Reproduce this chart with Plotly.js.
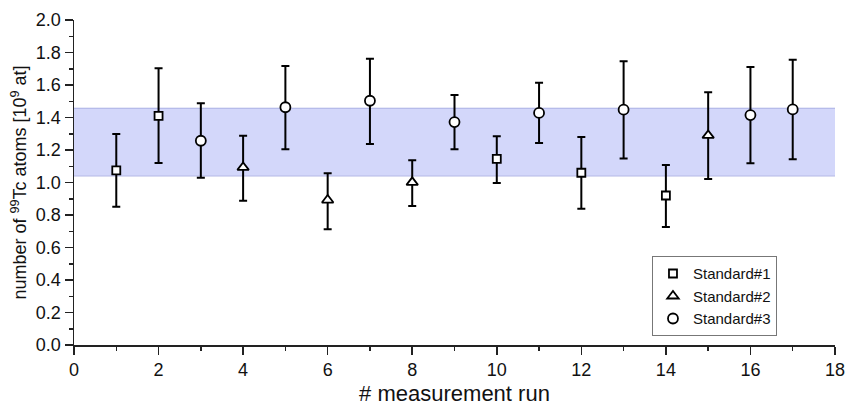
<!DOCTYPE html>
<html>
<head>
<meta charset="utf-8">
<script src="https://cdn.plot.ly/plotly-3.0.1.min.js"></script>
<style>html,body{margin:0;padding:0;background:#fff;}#chart{width:846px;height:409px;}</style>
</head>
<body>
<div id="chart"></div>
<script>
// Standard#1 (squares)
const s1Run   = [1, 2, 10, 12, 14];
const s1Value = [1.075, 1.41, 1.145, 1.06, 0.92];
const s1Low   = [0.851, 1.12, 0.997, 0.839, 0.726];
const s1High  = [1.298, 1.703, 1.284, 1.28, 1.108];
// Standard#2 (triangles)
const s2Run   = [4, 6, 8, 15];
const s2Value = [1.093, 0.892, 1.001, 1.29];
const s2Low   = [0.888, 0.712, 0.855, 1.022];
const s2High  = [1.288, 1.057, 1.137, 1.555];
// Standard#3 (circles)
const s3Run   = [3, 5, 7, 9, 11, 13, 16, 17];
const s3Value = [1.257, 1.463, 1.503, 1.372, 1.428, 1.448, 1.415, 1.45];
const s3Low   = [1.03, 1.204, 1.237, 1.204, 1.243, 1.147, 1.118, 1.143];
const s3High  = [1.487, 1.717, 1.762, 1.538, 1.614, 1.746, 1.711, 1.756];
// shaded band
const bandX    = [0, 18];
const bandLow  = [1.04, 1.04];
const bandHigh = [1.457, 1.457];
const seriesNames = ['Standard#1', 'Standard#2', 'Standard#3'];

const FONT = 'Arial, "Liberation Sans", sans-serif';

function errTrace(name, x, y, lo, hi, symbol, size) {
  return {
    type: 'scatter', mode: 'markers', name: name, x: x, y: y,
    marker: {symbol: symbol, size: size, color: '#ffffff', line: {color: '#000000', width: 1.8}},
    error_y: {type: 'data', symmetric: false,
      array: hi.map((h, i) => h - y[i]),
      arrayminus: lo.map((l, i) => y[i] - l),
      color: '#000000', thickness: 2, width: 4}
  };
}

const traces = [
  {type: 'scatter', mode: 'lines', x: bandX, y: bandLow, line: {color: '#b4b8e6', width: 1}, showlegend: false, hoverinfo: 'skip'},
  {type: 'scatter', mode: 'lines', x: bandX, y: bandHigh, fill: 'tonexty', fillcolor: '#d3d7fa', line: {color: '#a9aee4', width: 1}, showlegend: false, hoverinfo: 'skip'},
  errTrace(seriesNames[0], s1Run, s1Value, s1Low, s1High, 'square', 8),
  errTrace(seriesNames[1], s2Run, s2Value, s2Low, s2High, 'triangle-up', 10),
  errTrace(seriesNames[2], s3Run, s3Value, s3Low, s3High, 'circle', 10)
];

const axBase = {
  showgrid: false, zeroline: false, showline: true, linecolor: '#222222', linewidth: 1.5,
  tickcolor: '#222222', tickwidth: 1.5, ticklen: 8,
  tickfont: {family: FONT, size: 18, color: '#111111'}
};

const layout = {
  width: 846, height: 409,
  margin: {l: 74, r: 11, t: 20, b: 64},
  paper_bgcolor: '#ffffff', plot_bgcolor: '#ffffff',
  font: {family: FONT, color: '#111111'},
  xaxis: Object.assign({}, axBase, {
    range: [0, 18], dtick: 2, tick0: 0, ticks: 'outside',
    minor: {dtick: 1, ticklen: 4, ticks: 'outside', tickcolor: '#222222', tickwidth: 1.5},
    title: {text: '# measurement run', font: {family: FONT, size: 22, color: '#111111'}, standoff: 6}
  }),
  yaxis: Object.assign({}, axBase, {
    range: [0, 2.0], dtick: 0.2, tick0: 0, ticks: 'outside', tickformat: '.1f',
    minor: {dtick: 0.1, ticklen: 4, ticks: 'outside', tickcolor: '#222222', tickwidth: 1.5},
    title: {text: 'number of <sup>99</sup>Tc atoms [10<sup>9</sup> at]', font: {family: FONT, size: 18, color: '#111111'}, standoff: 4}
  }),
  xaxis2: Object.assign({}, axBase, {
    overlaying: 'x', anchor: 'y', side: 'top', range: [0, 18], dtick: 2, tick0: 0,
    ticks: 'inside', showticklabels: false,
    minor: {dtick: 1, ticklen: 4, ticks: 'inside', tickcolor: '#222222', tickwidth: 1.5}
  }),
  yaxis2: Object.assign({}, axBase, {
    overlaying: 'y', anchor: 'x', side: 'right', range: [0, 2.0], dtick: 0.2, tick0: 0,
    ticks: 'inside', showticklabels: false, ticklen: 7,
    minor: {dtick: 0.1, ticklen: 4, ticks: 'inside', tickcolor: '#222222', tickwidth: 1.5}
  }),
  showlegend: true,
  legend: {
    x: 0.7595, y: 0.15, xanchor: 'left', yanchor: 'middle',
    bgcolor: '#ffffff', bordercolor: '#777777', borderwidth: 1,
    font: {family: FONT, size: 15, color: '#111111'},
    traceorder: 'normal', tracegroupgap: 0, itemwidth: 30
  }
};

Plotly.newPlot('chart', traces, layout, {staticPlot: true, displayModeBar: false});
</script>
</body>
</html>
